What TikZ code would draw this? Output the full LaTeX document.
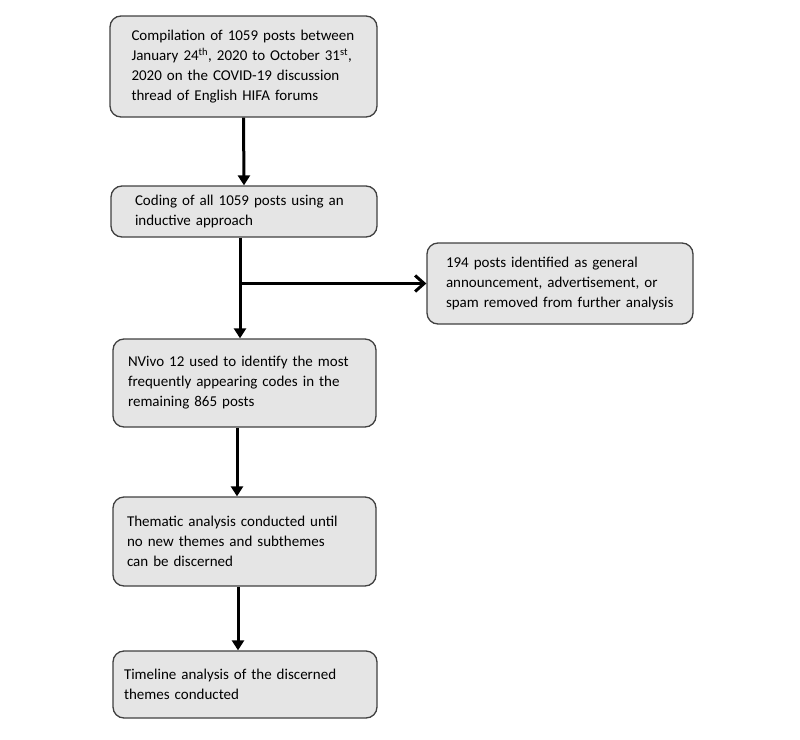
\documentclass[tikz,border=0pt]{standalone}
\usepackage{fontspec}
\setmainfont{Carlito}
\usetikzlibrary{calc, positioning, arrows.meta}
\hyphenpenalty=10000

\begin{document}
\begin{tikzpicture}[
	x=1pt, y=-1pt,
	stepbox/.style={
		draw=black!75,
		rectangle,
		rounded corners=11pt,
		fill=black!10,
		align=left,
		line width=1.3pt,
		inner ysep=4pt,
		font=\fontsize{15}{20}\selectfont
	},
	flow/.style={
		-{Triangle[length=10pt, width=12pt]},
		line width=3pt
	}
	]
	
	\useasboundingbox (0,0) rectangle (800,739);
	
	% Main boxes
	\node (compile) [stepbox, inner xsep=21.5pt, text width=224pt, minimum height=101pt] at (243.5, 66.5) {Compilation of 1059 posts between \\ January 24\textsuperscript{th}, 2020 to October 31\textsuperscript{st}, \\ 2020 on the COVID-19 discussion \\ thread of English HIFA forums};
	\node (coding) [stepbox, inner xsep=24pt, text width=218pt, minimum height=51pt] at (244, 211.5) {Coding of all 1059 posts using an \\ inductive approach};
	\node (nvivo) [stepbox, inner xsep=15pt, text width=233pt, minimum height=88pt] at (244.5, 383) {NVivo 12 used to identify the most \\ frequently appearing codes in the \\ remaining 865 posts};
	\node (thematic) [stepbox, inner xsep=14pt, text width=235pt, minimum height=89pt] at (244.5, 541.5) {Thematic analysis conducted until \\ no new themes and subthemes \\ can be discerned};
	\node (timeline) [stepbox, inner xsep=11pt, text width=242pt, minimum height=67pt] at (245, 684.5) {Timeline analysis of the discerned \\ themes conducted};
	
	% Side box
	\node (spam) [stepbox, inner xsep=19pt, text width=228pt, minimum height=81pt] at (560, 283.5) {194 posts identified as general \\ announcement, advertisement, or \\ spam removed from further analysis};
	
	% Arrows
	\coordinate (split) at ($(coding.south)+(-4,0)$);
	\draw [flow] (compile.south) -- (coding.north);
	\draw [flow] (split) -- (split |- nvivo.north);
	\draw [-{Straight Barb[length=9pt, width=16pt]}, line width=3pt] (split |- spam.west) -- (spam.west);
	\draw [flow] ($(nvivo.south)+(-7.5,0)$) -- ($(thematic.north)+(-7.5,0)$);
	\draw [flow] ($(thematic.south)+(-6.5,0)$) -- ($(timeline.north)+(-7,0)$);
	
\end{tikzpicture}
\end{document}
